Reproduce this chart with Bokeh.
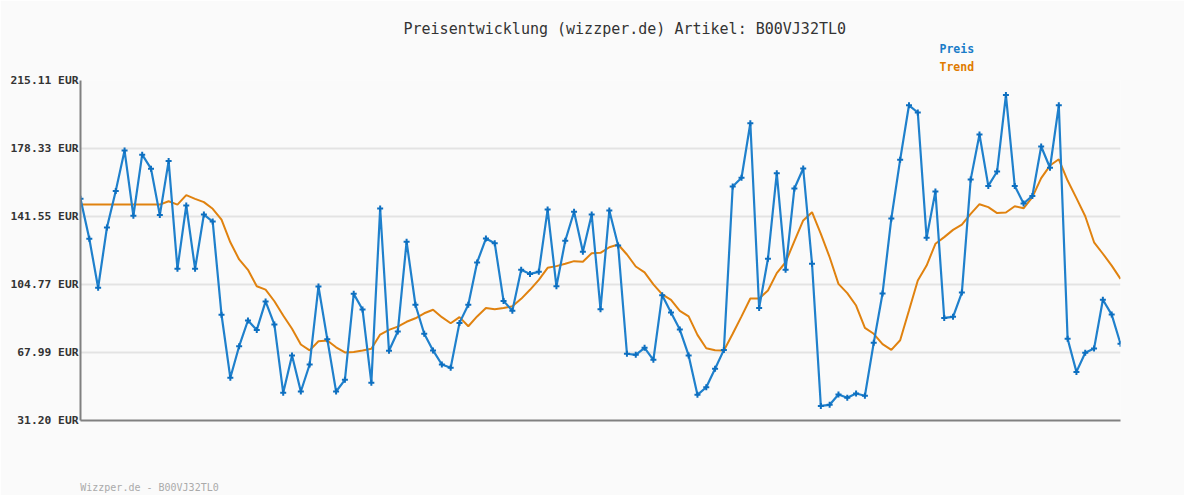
from bokeh.plotting import figure
from bokeh.models import Range1d, FixedTicker, Title, ColumnDataSource
from bokeh.embed import file_html
from bokeh.resources import INLINE

# ---- data ----
preis = [151.1, 129.5, 103.0, 135.6, 155.4, 177.2, 141.9, 175.0, 167.4, 142.3,
         171.5, 113.3, 147.5, 113.3, 142.6, 138.8, 88.4, 54.3, 71.4, 85.3,
         80.2, 95.6, 83.1, 46.2, 66.4, 46.9, 61.5, 103.7, 75.2, 46.9,
         53.2, 99.7, 91.2, 51.6, 145.9, 68.9, 79.3, 127.9, 93.8, 78.1,
         69.1, 61.5, 59.7, 84.0, 93.8, 116.7, 129.6, 127.1, 95.9, 90.5,
         112.7, 110.5, 111.6, 145.3, 103.8, 128.4, 144.1, 122.5, 142.6, 91.4,
         144.8, 125.9, 67.3, 66.7, 70.5, 64.0, 99.0, 89.6, 80.4, 66.4,
         45.1, 49.2, 59.2, 69.4, 157.8, 162.5, 192.0, 92.1, 118.7, 165.0,
         112.7, 156.7, 167.5, 116.0, 39.1, 39.7, 45.3, 43.5, 45.8, 44.6,
         73.2, 99.9, 140.5, 172.3, 201.7, 197.8, 130.0, 155.1, 86.7, 87.3,
         100.4, 161.5, 185.9, 158.1, 165.9, 207.2, 158.1, 148.6, 152.7, 179.4,
         167.9, 201.7, 75.4, 57.5, 67.8, 70.1, 96.5, 88.5, 72.7]

trend = [148.0, 148.0, 148.0, 148.0, 148.0, 148.0, 148.0, 148.0, 148.0, 148.0,
         149.8, 148.0, 153.1, 151.1, 149.3, 145.7, 139.8, 127.6, 118.3, 112.7,
         103.8, 102.0, 95.7, 88.0, 80.8, 72.3, 69.1, 74.1, 74.5, 70.8,
         68.0, 68.3, 69.1, 70.0, 77.7, 80.2, 82.0, 84.6, 86.5, 89.2,
         91.1, 87.1, 83.8, 87.1, 82.2, 87.5, 92.0, 91.4, 92.0, 93.0,
         97.0, 101.9, 107.3, 113.8, 114.7, 116.0, 117.4, 117.1, 121.7, 121.9,
         124.9, 126.4, 121.0, 114.5, 111.3, 104.8, 99.4, 96.5, 90.5, 87.5,
         77.5, 70.3, 69.2, 69.1, 78.1, 87.5, 97.2, 97.2, 101.5, 110.9,
         116.8, 128.2, 139.4, 143.9, 132.2, 119.5, 105.1, 100.1, 93.4, 81.3,
         78.1, 72.5, 69.4, 74.6, 90.7, 106.9, 115.0, 126.8, 130.4, 134.3,
         137.2, 143.0, 148.2, 146.6, 143.4, 143.7, 147.1, 146.0, 152.0, 162.3,
         169.1, 172.5, 161.0, 151.5, 141.7, 127.6, 121.4, 115.0, 107.8]

y_ticks = [31.20, 67.99, 104.77, 141.55, 178.33, 215.11]
y_tick_labels = ["31.20 EUR", "67.99 EUR", "104.77 EUR", "141.55 EUR", "178.33 EUR", "215.11 EUR"]

title_text = "Preisentwicklung (wizzper.de) Artikel: B00VJ32TL0"
legend_names = ["Preis", "Trend"]
footer_text = "Wizzper.de - B00VJ32TL0"

# ---- styling ----
BLUE = "#1f80cc"
BLUE_DARK = "#0d6fc0"
ORANGE = "#e0820f"
BG = "#fafafa"
MONO = "DejaVu Sans Mono"

idx = list(range(len(preis)))
X0, X1 = 0, len(preis) - 1
Y0, Y1 = y_ticks[0], y_ticks[-1]

FL, FW, FH = 80, 1040, 340


def dx(px):
    return X0 + (px - FL) / FW * (X1 - X0)


p = figure(frame_width=FW, frame_height=FH,
           min_border_left=80, min_border_right=64,
           min_border_top=80, min_border_bottom=0,
           x_range=Range1d(X0, X1), y_range=Range1d(Y0, Y1),
           title=None,
           output_backend="svg", toolbar_location=None)

p.background_fill_color = BG
p.border_fill_color = BG
p.outline_line_color = None

p.xgrid.grid_line_color = None
p.ygrid.ticker = FixedTicker(ticks=y_ticks)
p.ygrid.grid_line_color = "#e3e3e3"
p.ygrid.grid_line_width = 2

p.yaxis.ticker = FixedTicker(ticks=y_ticks)
p.yaxis.major_label_overrides = {t: l for t, l in zip(y_ticks, y_tick_labels)}
p.yaxis.axis_line_color = "#808080"
p.yaxis.axis_line_width = 2
p.yaxis.major_tick_line_color = None
p.yaxis.minor_tick_line_color = None
p.yaxis.major_tick_out = 0
p.yaxis.major_tick_in = 0
p.yaxis.major_label_standoff = 2
p.yaxis.major_label_text_font = MONO
p.yaxis.major_label_text_font_style = "bold"
p.yaxis.major_label_text_font_size = "11.3px"
p.yaxis.major_label_text_color = "#333333"

# bottom axis: line only, footer credit carried as its single tick label
footer_x = dx(149)
p.xaxis.ticker = FixedTicker(ticks=[footer_x])
p.xaxis.major_label_overrides = {footer_x: footer_text}
p.xaxis.axis_line_color = "#808080"
p.xaxis.axis_line_width = 2
p.xaxis.major_tick_line_color = None
p.xaxis.minor_tick_line_color = None
p.xaxis.major_tick_out = 0
p.xaxis.major_tick_in = 0
p.xaxis.major_label_standoff = 61
p.xaxis.major_label_text_font = MONO
p.xaxis.major_label_text_font_size = "10px"
p.xaxis.major_label_text_color = "#aaaaaa"

src = ColumnDataSource(dict(x=idx, preis=preis, trend=trend))

p.line("x", "trend", source=src, line_color=ORANGE, line_width=2)
p.line("x", "preis", source=src, line_color=BLUE, line_width=2.2)
p.scatter("x", "preis", source=src, marker="cross", size=6,
          line_color=BLUE_DARK, line_width=2)

# legend rows and title, stacked above the frame (first added = nearest frame)
p.add_layout(Title(text=legend_names[1], align="left", offset=859,
                   vertical_align="top", standoff=8.6,
                   text_font=MONO, text_font_size="11.5px", text_font_style="bold",
                   text_color="#e07b00"), "above")
p.add_layout(Title(text=legend_names[0], align="left", offset=859,
                   vertical_align="bottom", standoff=0,
                   text_font=MONO, text_font_size="11.5px", text_font_style="bold",
                   text_color="#1a7cc8"), "above")
p.add_layout(Title(text=title_text, align="left", offset=323,
                   vertical_align="middle", standoff=0.5,
                   text_font=MONO, text_font_size="15px", text_font_style="normal",
                   text_color="#333333"), "above")

open("out.html", "w").write(file_html(p, INLINE))
